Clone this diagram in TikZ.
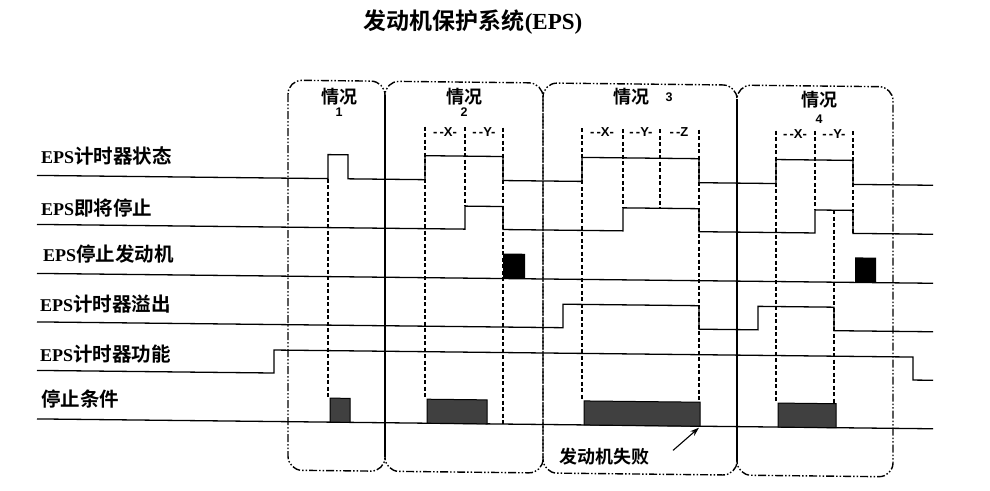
\documentclass[tikz,border=0pt]{standalone}
\usepackage{fontspec}
\setmainfont{Liberation Serif}
\setsansfont{Liberation Sans}
\newfontfamily\cjk{Noto Sans CJK SC}[BoldFont={* Bold}]
\usetikzlibrary{arrows.meta}
\newcommand\myrowlab[2]{{\bfseries\fontsize{18}{18}\selectfont #1}{\cjk\bfseries\fontsize{19.5}{20}\selectfont #2}}
\tikzset{
  sig/.style={line width=1.3pt, line join=miter},
  vdash/.style={line width=1.5pt, dash pattern=on 4pt off 2.5pt},
  casebox/.style={line width=1.4pt, rounded corners=14pt, dash pattern=on 8pt off 2pt on 1.5pt off 2pt on 1.5pt off 2pt},
  shared/.style={line width=1.4pt},
  lbl/.style={anchor=west, inner sep=0pt},
  casetxt/.style={inner sep=0pt, font=\cjk\bfseries\fontsize{18}{18}\selectfont},
  casenum/.style={inner sep=0pt, font=\sffamily\bfseries\fontsize{12.5}{12.5}\selectfont},
  xytxt/.style={inner sep=0pt, font=\sffamily\bfseries\fontsize{13}{13}\selectfont},
  stopbox/.style={draw=black, line width=1pt, fill=black!75},
  blackbox/.style={fill=black}
}
\begin{document}
\begin{tikzpicture}[x=1pt,y=-1pt]
\useasboundingbox (0,0) rectangle (990,490);
\node[inner sep=0pt] (title) at (473,22) {\cjk\bfseries\fontsize{23}{23}\selectfont 发动机保护系统{\rmfamily\bfseries (EPS)}};
\begin{scope}[yslant=-0.011]
% case boxes
\draw[casebox] (288,77) rectangle (385,467);
\draw[casebox] (385,77) rectangle (543,467);
\draw[casebox] (543,77) rectangle (737,467);
\draw[casebox] (737,77) rectangle (893,467);
\draw[shared] (385,91) -- (385,453);
\draw[shared] (737,91) -- (737,453);
% case labels
\node[casetxt] (c1) at (339,93) {情况};
\node[casenum] (n1) at (339,108) {1};
\node[casetxt] (c2) at (464,92) {情况};
\node[casenum] (n2) at (464,107) {2};
\node[casetxt] (c3) at (631,90) {情况};
\node[casenum] (n3) at (669,90) {3};
\node[casetxt] (c4) at (819,91) {情况};
\node[casenum] (n4) at (819,110) {4};
% X Y Z labels
\node[xytxt] (x2) at (445,127) {-\,-X-};
\node[xytxt] (y2) at (484,127) {-\,-Y-};
\node[xytxt] (x3) at (602,125) {-\,-X-};
\node[xytxt] (y3) at (641,125) {-\,-Y-};
\node[xytxt] (z3) at (679,125) {-\,-Z};
\node[xytxt] (x4) at (795,125) {-\,-X-};
\node[xytxt] (y4) at (834,125) {-\,-Y-};
% vertical dashed guides
\draw[vdash] (328,175) -- (328,394.5);
\draw[vdash] (425,122) -- (425,394.5);
\draw[vdash] (465,122) -- (465,201);
\draw[vdash] (503,122) -- (503,418.5);
\draw[vdash] (582,122) -- (582,394.5);
\draw[vdash] (623,122) -- (623,201);
\draw[vdash] (660,122) -- (660,201);
\draw[vdash] (699,122) -- (699,394.5);
\draw[vdash] (776,122) -- (776,394.5);
\draw[vdash] (815,122) -- (815,201);
\draw[vdash] (834,201) -- (834,418.5);
\draw[vdash] (853,122) -- (853,224);
% row labels
\node[lbl] (r1) at (41,156) {\myrowlab{EPS}{计时器状态}};
\node[lbl] (r2) at (41,208) {\myrowlab{EPS}{即将停止}};
\node[lbl] (r3) at (43,254) {\myrowlab{EPS}{停止发动机}};
\node[lbl] (r4) at (40,304) {\myrowlab{EPS}{计时器溢出}};
\node[lbl] (r5) at (40,354) {\myrowlab{EPS}{计时器功能}};
\node[lbl] (r6) at (41,399) {\myrowlab{}{停止条件}};
% signal 1
\draw[sig] (37,175) -- (328,175) -- (328,151) -- (348,151) -- (348,175) -- (425,175) -- (425,151) -- (503,151) -- (503,175) -- (582,175) -- (582,151) -- (699,151) -- (699,175) -- (776,175) -- (776,151) -- (853,151) -- (853,175) -- (933,175);
% signal 2
\draw[sig] (37,224) -- (465,224) -- (465,201) -- (503,201) -- (503,224) -- (623,224) -- (623,201) -- (699,201) -- (699,224) -- (815,224) -- (815,201) -- (853,201) -- (853,224) -- (933,224);
% signal 3
\draw[sig] (37,273) -- (933,273);
\fill[blackbox] (503,248) rectangle (525,273);
\fill[blackbox] (855,248) rectangle (876,273);
% signal 4
\draw[sig] (37,321.5) -- (563,321.5) -- (563,298) -- (699,298) -- (699,321.5) -- (758,321.5) -- (758,298) -- (834,298) -- (834,321.5) -- (933,321.5);
% signal 5
\draw[sig] (37,370) -- (274,370) -- (274,347) -- (913,347) -- (913,370) -- (933,370);
% signal 6
\draw[sig] (37,418.5) -- (933,418.5);
\draw[stopbox] (330,394.5) rectangle (350,418.5);
\draw[stopbox] (427,394.5) rectangle (487,418.5);
\draw[stopbox] (584,394.5) rectangle (700,418.5);
\draw[stopbox] (778,394.5) rectangle (836,418.5);
% failure note
\node[inner sep=0pt, font=\cjk\bfseries\fontsize{18}{18}\selectfont] (fail) at (604,450) {发动机失败};
\coordinate (arrS) at (673,443);
\coordinate (arrE) at (699,420);
\draw[line width=1.1pt, -{Stealth[length=9pt,width=6pt]}] (arrS) -- (arrE);
\end{scope}
\end{tikzpicture}
\end{document}
